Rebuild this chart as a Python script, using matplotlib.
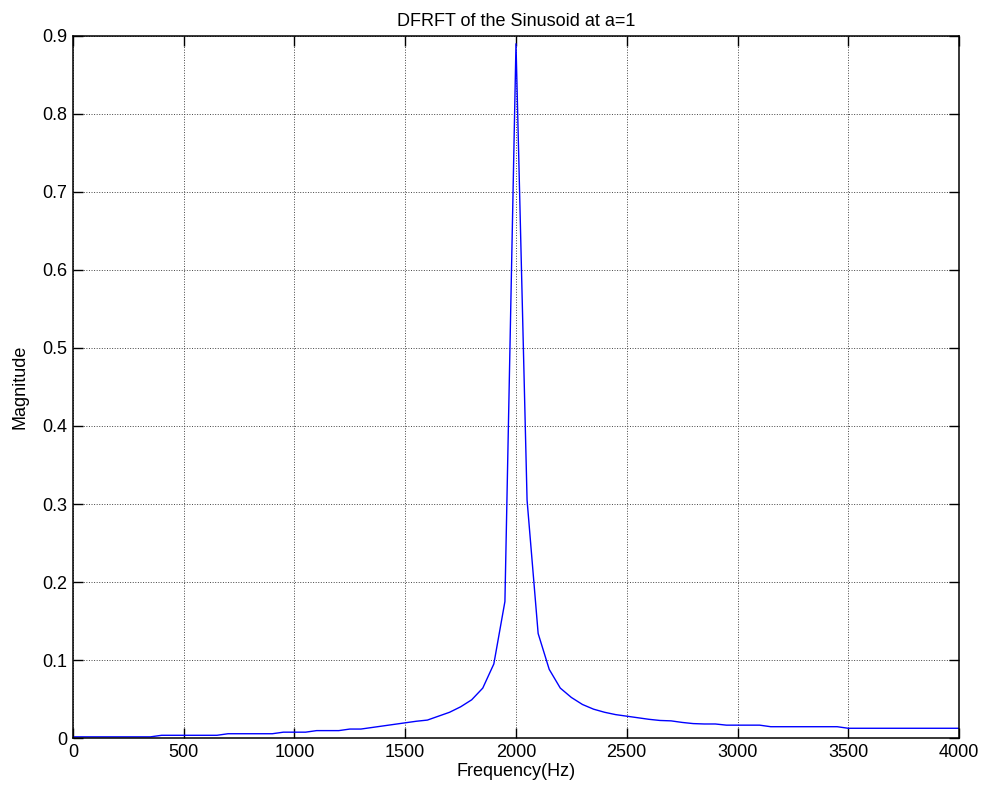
import numpy as np
import matplotlib
matplotlib.use("Agg")
import matplotlib.pyplot as plt

plt.rcParams['font.family'] = ['Liberation Sans', 'DejaVu Sans']

# frequency samples (Hz) and magnitude
freq = np.arange(0, 4001, 50)
mag = [
    0.0015, 0.0015, 0.0015, 0.0015, 0.0015, 0.0015, 0.0015, 0.0015,   # 0-350
    0.0035, 0.0035, 0.0035, 0.0035, 0.0035, 0.0035,                   # 400-650
    0.0055, 0.0055, 0.0055, 0.0055, 0.0055,                           # 700-900
    0.0075, 0.0075, 0.0075,                                           # 950-1050
    0.0095, 0.0095, 0.0095,                                           # 1100-1200
    0.0115, 0.0115,                                                   # 1250-1300
    0.0135, 0.0155, 0.0175, 0.0195, 0.0215, 0.023,                    # 1350-1600
    0.028, 0.033, 0.040, 0.049, 0.064, 0.095, 0.175,                  # 1650-1950
    0.89,                                                             # 2000
    0.305, 0.134, 0.088, 0.064, 0.052, 0.043, 0.037, 0.033, 0.030,    # 2050-2450
    0.028, 0.026, 0.024, 0.0225, 0.022, 0.020, 0.0185, 0.018, 0.018,  # 2500-2900
    0.0165, 0.0165, 0.0165, 0.0165,                                   # 2950-3100
    0.0145, 0.0145, 0.0145, 0.0145, 0.0145, 0.0145, 0.0145,           # 3150-3450
    0.0125, 0.0125, 0.0125, 0.0125, 0.0125, 0.0125, 0.0125, 0.0125,
    0.0125, 0.0125, 0.0125,                                           # 3500-4000
]

xticks = list(range(0, 4001, 500))
yticks = [0, 0.1, 0.2, 0.3, 0.4, 0.5, 0.6, 0.7, 0.8, 0.9]
ytick_labels = ['0', '0.1', '0.2', '0.3', '0.4', '0.5', '0.6', '0.7', '0.8', '0.9']

fig = plt.figure(figsize=(9.82, 7.94), dpi=100)
ax = fig.add_axes([0.0743, 0.0705, 0.9023, 0.8842])

ax.plot(freq, mag, color='#0000ff', linewidth=1.0)

ax.set_xlim(0, 4000)
ax.set_ylim(0, 0.9)
ax.set_xticks(xticks)
ax.set_yticks(yticks)
ax.set_yticklabels(ytick_labels)
ax.tick_params(direction='in', length=7, width=1, top=True, right=True,
               labelsize=13, pad=4)
ax.grid(True, color='#444444', linestyle=':', linewidth=0.7)
for s in ax.spines.values():
    s.set_linewidth(1.1)

ax.set_title('DFRFT of the Sinusoid at a=1', fontsize=13, pad=7)
ax.set_xlabel('Frequency(Hz)', fontsize=13, labelpad=2)
ax.set_ylabel('Magnitude', fontsize=13, labelpad=10)

fig.savefig('out.png', dpi=100)
